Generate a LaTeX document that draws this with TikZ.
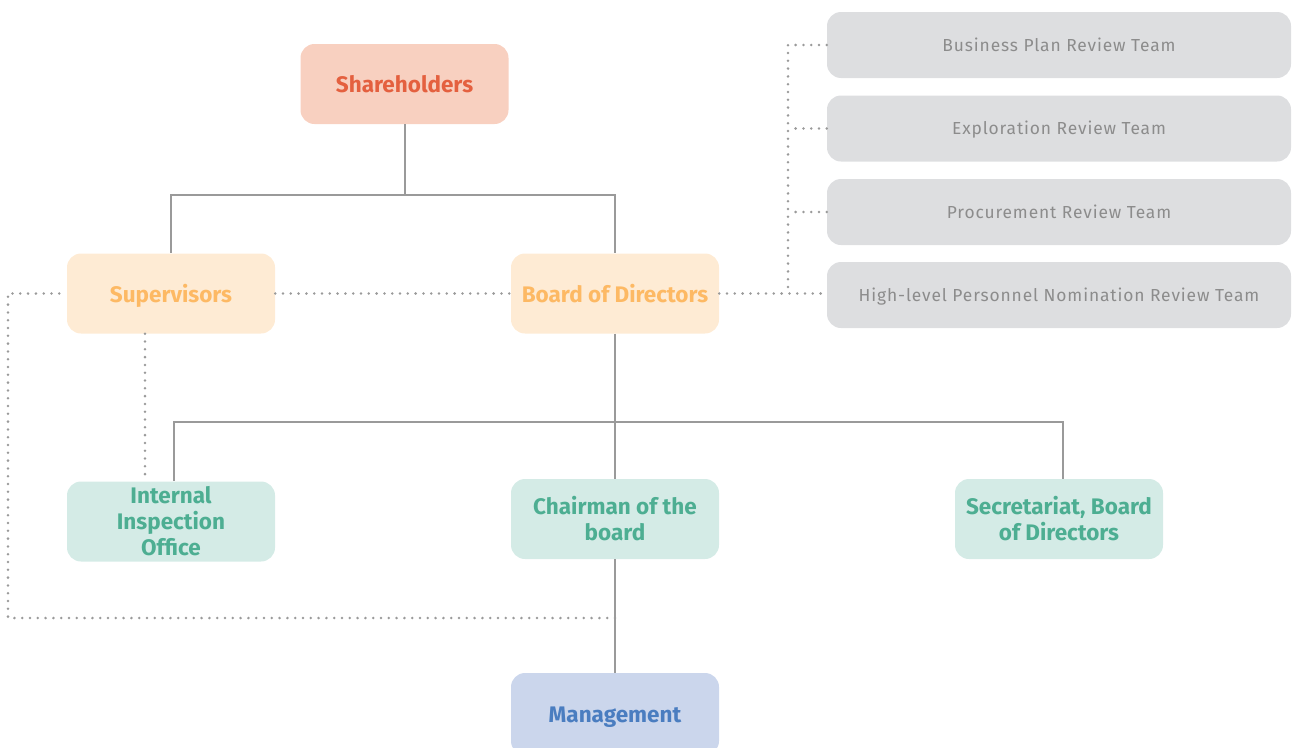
\documentclass[tikz,border=0pt]{standalone}
\usepackage{fontspec}
\setmainfont{Fira Sans}
\newfontfamily\teamfont[LetterSpace=5]{Fira Sans}
\definecolor{shfill}{HTML}{F8D0C0}
\definecolor{shtext}{HTML}{E4603F}
\definecolor{supfill}{HTML}{FEEBD4}
\definecolor{suptext}{HTML}{FDB964}
\definecolor{grnfill}{HTML}{D4EBE6}
\definecolor{grntext}{HTML}{4DAE92}
\definecolor{mgfill}{HTML}{CBD6EC}
\definecolor{mgtext}{HTML}{4A7DC0}
\definecolor{teamfill}{HTML}{DDDEE0}
\definecolor{teamtext}{HTML}{8C8C8C}
\definecolor{linkgray}{HTML}{9A9A9A}
\tikzset{
  unit/.style={rounded corners=14pt,minimum width=208pt,minimum height=80pt,
    inner sep=0pt,align=center,font=\bfseries\fontsize{22.5}{26}\selectfont},
  oneline/.style={text height=20pt,text depth=3pt},
  team/.style={rounded corners=14pt,minimum width=464pt,minimum height=66pt,
    inner sep=0pt,fill=teamfill,text=teamtext,text height=14pt,text depth=2pt,
    font=\teamfont\fontsize{17.4}{20}\selectfont},
  solidlink/.style={draw=linkgray,line width=2pt},
  dotlink/.style={draw=linkgray,line width=2.8pt,line cap=round,dash pattern=on 0pt off 7.8pt}
}

\begin{document}
\begin{tikzpicture}[x=1pt,y=-1pt]
\useasboundingbox (0,0) rectangle (1292,747);
% units
\node[unit,oneline,fill=shfill,text=shtext] (share) at (404.5,84) {Shareholders};
\node[unit,oneline,fill=supfill,text=suptext] (sup) at (171,293.5) {Supervisors};
\node[unit,oneline,fill=supfill,text=suptext] (board) at (615,293.5) {Board of Directors};
\node[unit,fill=grnfill,text=grntext] (iio) at (171,521.5) {Internal\\Inspection\\Office};
\node[unit,fill=grnfill,text=grntext] (chair) at (615,519) {Chairman of the\\board};
\node[unit,fill=grnfill,text=grntext] (secr) at (1059,519) {Secretariat, Board\\of Directors};
\node[unit,oneline,fill=mgfill,text=mgtext,minimum height=82pt] (mgmt) at (615,714) {Management};
% review teams
\node[team] (t1) at (1059,45) {Business Plan Review Team};
\node[team] (t2) at (1059,128.5) {Exploration Review Team};
\node[team] (t3) at (1059,212) {Procurement Review Team};
\node[team] (t4) at (1059,295) {High-level Personnel Nomination Review Team};
% solid links
\coordinate (split1) at (404.5,195);
\coordinate (split2) at (615,422);
\draw[solidlink] (share.south) -- (split1) -| (sup.north);
\draw[solidlink] (split1) -| (board.north);
\draw[solidlink] (board.south) -- (chair.north);
\draw[solidlink] (split2) -| ([xshift=3pt]iio.north);
\draw[solidlink] (split2) -| ([xshift=4pt]secr.north);
\draw[solidlink] (chair.south) -- (mgmt.north);
% dotted links
\coordinate (leftrail) at (8,293.5);
\coordinate (mgjoin) at (615,618);
\coordinate (teamrail) at (788,290);
\draw[dotlink] (mgjoin) -| (leftrail) -- (sup.west);
\draw[dotlink] (sup.east) -- (board.west);
\draw[dotlink] ([xshift=-26pt]sup.south) -- ([xshift=-26pt]iio.north);
\draw[dotlink] (board.east) -- (t4.west |- board.east);
\draw[dotlink] (t1.west) -| (teamrail);
\draw[dotlink] (t2.west) -- (t2.west -| teamrail);
\draw[dotlink] (t3.west) -- (t3.west -| teamrail);
\end{tikzpicture}
\end{document}
